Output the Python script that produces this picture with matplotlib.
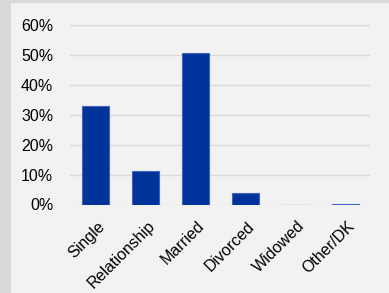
import matplotlib.pyplot as plt
from matplotlib.patches import Rectangle
from matplotlib.ticker import PercentFormatter
from matplotlib.transforms import ScaledTranslation

categories = ["Single", "Relationship", "Married", "Divorced", "Widowed", "Other/DK"]
shares = [0.330, 0.112, 0.506, 0.038, 0.0, 0.003]
yticks = [0.0, 0.1, 0.2, 0.3, 0.4, 0.5, 0.6]

plt.rcParams['font.family'] = ['Liberation Sans', 'DejaVu Sans']

fig = plt.figure(figsize=(3.89, 2.93), dpi=100, facecolor="#f2f2f2")

# grey frame on the left and top edge
fig.patches.append(Rectangle((0, 0), 11 / 389, 1, transform=fig.transFigure,
                             facecolor="#d9d9d9", edgecolor="none", zorder=0))
fig.patches.append(Rectangle((0, 1 - 3 / 293), 1, 3 / 293, transform=fig.transFigure,
                             facecolor="#d9d9d9", edgecolor="none", zorder=0))

ax = fig.add_axes([70 / 389, 88.5 / 293, 300 / 389, 179.5 / 293])
ax.set_facecolor("#f2f2f2")

x = range(len(categories))
ax.bar(x, shares, width=0.54, color="#003399", edgecolor="#3f64c0", linewidth=0.8, zorder=3)

ax.set_xlim(-0.5, len(categories) - 0.5)
ax.set_ylim(0, 0.6)
ax.set_yticks(yticks)
ax.yaxis.set_major_formatter(PercentFormatter(1.0, decimals=0))
ax.grid(axis="y", color="#d9d9d9", linewidth=1.0, zorder=0)
ax.set_xticks(list(x))
ax.set_xticklabels(categories, rotation=45, ha="right", rotation_mode="anchor")

for s in ax.spines.values():
    s.set_visible(False)
ax.tick_params(axis="both", length=0, colors="#000000")
ax.tick_params(axis="y", pad=12, labelsize=11.5)
ax.tick_params(axis="x", pad=10, labelsize=11.5)

shift = ScaledTranslation(2 / 100, 0, fig.dpi_scale_trans)
for lbl in ax.get_xticklabels():
    lbl.set_transform(lbl.get_transform() + shift)

fig.savefig("out.png", dpi=100, facecolor=fig.get_facecolor())
